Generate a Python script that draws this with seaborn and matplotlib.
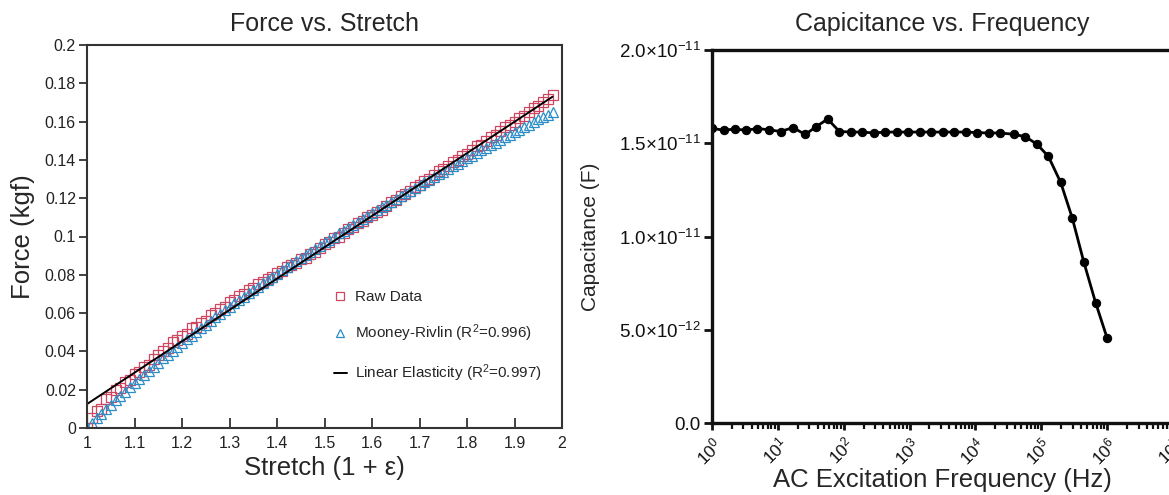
import matplotlib
matplotlib.use("Agg")
import matplotlib.pyplot as plt
import seaborn as sns
import numpy as np
from matplotlib.ticker import LogLocator, NullFormatter, FixedLocator

# ---------------- data: Force vs. Stretch ----------------
stretch = [1.00, 1.01, 1.02, 1.03, 1.04, 1.05, 1.06, 1.07, 1.08, 1.09,
           1.10, 1.11, 1.12, 1.13, 1.14, 1.15, 1.16, 1.17, 1.18, 1.19,
           1.20, 1.21, 1.22, 1.23, 1.24, 1.25, 1.26, 1.27, 1.28, 1.29,
           1.30, 1.31, 1.32, 1.33, 1.34, 1.35, 1.36, 1.37, 1.38, 1.39,
           1.40, 1.41, 1.42, 1.43, 1.44, 1.45, 1.46, 1.47, 1.48, 1.49,
           1.50, 1.51, 1.52, 1.53, 1.54, 1.55, 1.56, 1.57, 1.58, 1.59,
           1.60, 1.61, 1.62, 1.63, 1.64, 1.65, 1.66, 1.67, 1.68, 1.69,
           1.70, 1.71, 1.72, 1.73, 1.74, 1.75, 1.76, 1.77, 1.78, 1.79,
           1.80, 1.81, 1.82, 1.83, 1.84, 1.85, 1.86, 1.87, 1.88, 1.89,
           1.90, 1.91, 1.92, 1.93, 1.94, 1.95, 1.96, 1.97, 1.98]

raw_force = [0.000, 0.005, 0.009, 0.010, 0.015, 0.016, 0.020, 0.021, 0.024, 0.025,
             0.028, 0.029, 0.032, 0.033, 0.036, 0.038, 0.040, 0.042, 0.045, 0.046,
             0.048, 0.049, 0.052, 0.053, 0.055, 0.056, 0.059, 0.060, 0.062, 0.063,
             0.066, 0.067, 0.069, 0.070, 0.072, 0.073, 0.075, 0.076, 0.078, 0.079,
             0.081, 0.082, 0.084, 0.085, 0.086, 0.088, 0.089, 0.091, 0.092, 0.094,
             0.096, 0.097, 0.099, 0.100, 0.102, 0.104, 0.105, 0.107, 0.108, 0.110,
             0.111, 0.113, 0.114, 0.116, 0.118, 0.119, 0.121, 0.122, 0.124, 0.126,
             0.127, 0.129, 0.130, 0.132, 0.134, 0.135, 0.137, 0.139, 0.140, 0.142,
             0.143, 0.145, 0.147, 0.148, 0.150, 0.152, 0.153, 0.155, 0.157, 0.158,
             0.160, 0.162, 0.163, 0.165, 0.167, 0.168, 0.170, 0.172, 0.174]

mooney_force = [0.0000, 0.0025, 0.0050, 0.0074, 0.0098, 0.0121, 0.0145, 0.0168, 0.0190, 0.0213,
                0.0235, 0.0257, 0.0279, 0.0300, 0.0321, 0.0342, 0.0363, 0.0383, 0.0404, 0.0424,
                0.0444, 0.0463, 0.0483, 0.0502, 0.0521, 0.0540, 0.0559, 0.0578, 0.0596, 0.0614,
                0.0633, 0.0651, 0.0668, 0.0686, 0.0704, 0.0721, 0.0738, 0.0756, 0.0773, 0.0790,
                0.0806, 0.0823, 0.0840, 0.0856, 0.0873, 0.0889, 0.0905, 0.0921, 0.0937, 0.0953,
                0.0969, 0.0984, 0.1000, 0.1016, 0.1031, 0.1046, 0.1062, 0.1077, 0.1092, 0.1107,
                0.1122, 0.1137, 0.1152, 0.1167, 0.1181, 0.1196, 0.1210, 0.1225, 0.1239, 0.1254,
                0.1268, 0.1282, 0.1297, 0.1311, 0.1325, 0.1339, 0.1353, 0.1367, 0.1381, 0.1395,
                0.1409, 0.1422, 0.1436, 0.1450, 0.1463, 0.1477, 0.1490, 0.1504, 0.1517, 0.1531,
                0.1544, 0.1558, 0.1571, 0.1584, 0.1597, 0.1611, 0.1624, 0.1637, 0.1650]

linear_stretch = [1.0, 1.98]
linear_force = [0.0125, 0.1730]

force_yticks = [0, 0.02, 0.04, 0.06, 0.08, 0.1, 0.12, 0.14, 0.16, 0.18, 0.2]
force_yticklabels = ["0", "0.02", "0.04", "0.06", "0.08", "0.1", "0.12", "0.14", "0.16", "0.18", "0.2"]
stretch_xticks = [1, 1.1, 1.2, 1.3, 1.4, 1.5, 1.6, 1.7, 1.8, 1.9, 2]
stretch_xticklabels = ["1", "1.1", "1.2", "1.3", "1.4", "1.5", "1.6", "1.7", "1.8", "1.9", "2"]

legend_labels = ["Raw Data", "Mooney-Rivlin (R$^2$=0.996)", "Linear Elasticity (R$^2$=0.997)"]

# ---------------- data: Capacitance vs. Frequency ----------------
freq_hz = [1, 1.5, 2.2, 3.3, 4.9, 7.4, 11, 17, 26, 38,
           57, 86, 128, 192, 287, 430, 642, 960, 1440, 2150,
           3210, 4800, 7180, 10700, 16100, 24000, 38400, 57400, 85900, 128000,
           197000, 295000, 441000, 668000, 1000000]
capacitance_pf = [15.80, 15.70, 15.76, 15.70, 15.79, 15.72, 15.63, 15.84, 15.47, 15.88,
                  16.30, 15.63, 15.60, 15.60, 15.55, 15.60, 15.60, 15.60, 15.60, 15.60,
                  15.60, 15.60, 15.60, 15.57, 15.55, 15.55, 15.48, 15.35, 14.95, 14.30,
                  12.90, 11.00, 8.65, 6.45, 4.55]
cap_yticks = [0, 5e-12, 1e-11, 1.5e-11, 2e-11]
cap_yticklabels = ["0.0", "5.0×10$^{-12}$", "1.0×10$^{-11}$", "1.5×10$^{-11}$", "2.0×10$^{-11}$"]
freq_xticks = [1e0, 1e1, 1e2, 1e3, 1e4, 1e5, 1e6, 1e7]
freq_xticklabels = ["$10^{0}$", "$10^{1}$", "$10^{2}$", "$10^{3}$", "$10^{4}$", "$10^{5}$", "$10^{6}$", "$10^{7}$"]

capacitance_f = [c * 1e-12 for c in capacitance_pf]

# ---------------- style ----------------
sns.set_style("ticks")
plt.rcParams['font.family'] = ['Liberation Sans', 'DejaVu Sans']
plt.rcParams['mathtext.fontset'] = 'custom'
plt.rcParams['mathtext.rm'] = 'Liberation Sans'
plt.rcParams['mathtext.it'] = 'Liberation Sans:italic'
plt.rcParams['mathtext.default'] = 'regular'

RED = '#cf4660'
BLUE = '#2b8dc6'

fig = plt.figure(figsize=(11.69, 4.95), dpi=100)
W, H = 1169, 495

# left axes: x 87..562, y 45..428 (pixels)
ax1 = fig.add_axes([87 / W, 1 - 428 / H, (562 - 87) / W, (428 - 45) / H])
sns.lineplot(x=stretch, y=raw_force, ax=ax1, linestyle='none', marker='s',
             markersize=6.5, markerfacecolor='none', markeredgecolor=RED,
             markeredgewidth=0.9, color=RED, label=legend_labels[0])
sns.lineplot(x=stretch, y=mooney_force, ax=ax1, linestyle='none', marker='^',
             markersize=6.5, markerfacecolor='none', markeredgecolor=BLUE,
             markeredgewidth=0.9, color=BLUE, label=legend_labels[1])
sns.lineplot(x=linear_stretch, y=linear_force, ax=ax1, color='black', lw=1.4,
             label=legend_labels[2])

ax1.set_xlim(1, 2)
ax1.set_ylim(0, 0.2)
ax1.set_xticks(stretch_xticks)
ax1.set_xticklabels(stretch_xticklabels, fontsize=11.5)
ax1.set_yticks(force_yticks)
ax1.set_yticklabels(force_yticklabels, fontsize=11.5)
ax1.tick_params(axis='x', direction='in', length=7, width=1.2, pad=6, colors='#222222')
ax1.tick_params(axis='y', direction='out', length=6, width=1.2, pad=2, colors='#222222')
for s in ax1.spines.values():
    s.set_visible(True)
    s.set_linewidth(1.5)
    s.set_color('#333333')
ax1.set_xlabel("Stretch (1 + ε)", fontsize=18.5, labelpad=3)
ax1.set_ylabel("Force (kgf)", fontsize=18.5, labelpad=7)
ax1.set_title("Force vs. Stretch", fontsize=18, pad=10)

leg = ax1.legend(loc='upper left', bbox_to_anchor=(0.49, 0.395), frameon=False,
                 handlelength=0.9, handletextpad=0.5, labelspacing=1.2,
                 prop={'size': 11})
for h in leg.legend_handles:
    try:
        h.set_markersize(6)
    except Exception:
        pass

# right axes: x 712..1173, y 50..423
ax2 = fig.add_axes([712 / W, 1 - 423 / H, (1173 - 712) / W, (423 - 50) / H])
sns.lineplot(x=freq_hz, y=capacitance_f, ax=ax2, color='black', lw=2.0,
             marker='o', markersize=6, markeredgecolor='black', markerfacecolor='black')
ax2.set_xscale('log')
ax2.set_xlim(1, 1e7)
ax2.set_ylim(0, 2e-11)
ax2.set_yticks(cap_yticks)
ax2.set_yticklabels(cap_yticklabels, fontsize=13.5)
ax2.xaxis.set_major_locator(FixedLocator(freq_xticks))
ax2.set_xticklabels(freq_xticklabels, fontsize=12.5, rotation=45, ha='right', va='top',
                    rotation_mode='anchor')
ax2.xaxis.set_minor_locator(LogLocator(base=10, subs=np.arange(2, 10)))
ax2.xaxis.set_minor_formatter(NullFormatter())
ax2.tick_params(axis='both', which='major', direction='out', length=6, width=2, pad=2, colors='#111111')
ax2.tick_params(axis='x', which='minor', direction='out', length=4, width=1.6, colors='#111111')
ax2.tick_params(axis='x', which='major', length=5, pad=3)
for name, s in ax2.spines.items():
    s.set_linewidth(2.4)
    s.set_color('#111111')
ax2.spines['right'].set_visible(False)
ax2.spines['top'].set_visible(True)
ax2.set_xlabel("AC Excitation Frequency (Hz)", fontsize=18.5, labelpad=0)
ax2.set_ylabel("Capacitance (F)", fontsize=15, labelpad=14)
ax2.set_title("Capicitance vs. Frequency", fontsize=18, pad=14)

fig.savefig("out.png", dpi=100)
